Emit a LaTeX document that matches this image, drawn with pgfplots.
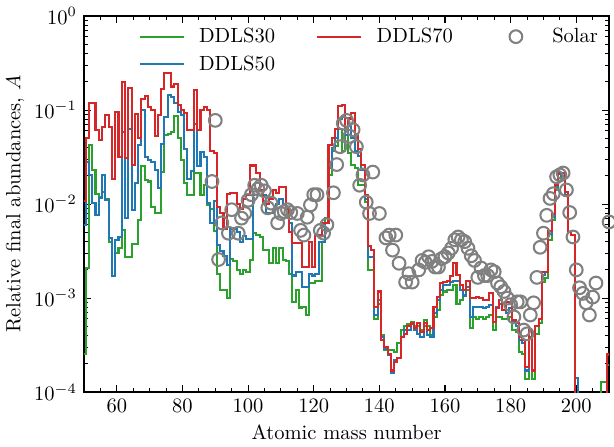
\documentclass[border=0pt]{standalone}
\usepackage{pgfplots}
\pgfplotsset{compat=1.18}
\usepackage{pgfplotstable}
\definecolor{cgreen}{HTML}{2CA02C}
\definecolor{cblue}{HTML}{1F77B4}
\definecolor{cred}{HTML}{D62728}
\definecolor{cgray}{HTML}{808080}
\pgfplotsset{
  mylineleg/.style={legend image code/.code={\draw[##1, line width=1pt] (0pt,0pt) -- (21.5pt,0pt);}},
  mysolarleg/.style={legend image code/.code={\path[draw=none, fill=none] (0pt,-1pt) rectangle (21.5pt,1pt);\draw[mark repeat=2, mark phase=2, ##1] plot coordinates {(0pt,0pt) (10.75pt,0pt) (21.5pt,0pt)};}},
}

% log10 of relative final abundances, per atomic mass number
\pgfplotstableread{
m r b g
50 -1.97 -2.22 -3.59
51 -1.30 -1.55 -2.68
52 -0.93 -1.69 -1.37
53 -0.93 -1.99 -1.64
54 -1.21 -2.12 -1.89
55 -1.32 -1.94 -1.92
56 -1.18 -1.69 -1.87
57 -1.05 -1.96 -1.95
58 -1.18 -2.36 -2.40
59 -1.73 -2.77 -2.77
60 -1.02 -2.38 -2.52
61 -1.50 -2.35 -2.47
62 -0.70 -1.23 -2.28
63 -1.51 -2.15 -2.56
64 -0.77 -1.20 -2.56
65 -1.58 -2.06 -2.42
66 -1.04 -1.78 -2.42
67 -1.30 -1.37 -2.17
68 -0.88 -1.00 -1.60
69 -0.85 -1.50 -1.74
70 -0.97 -1.53 -1.76
71 -1.00 -1.55 -2.03
72 -1.28 -1.64 -2.10
73 -1.05 -1.83 -2.10
74 -0.78 -1.36 -1.66
75 -0.61 -1.07 -1.27
76 -0.61 -0.84 -1.25
77 -0.75 -0.86 -1.23
78 -0.72 -0.93 -1.06
79 -0.95 -1.02 -1.30
80 -1.00 -1.05 -1.53
81 -1.03 -1.41 -1.78
82 -1.21 -1.73 -1.90
83 -1.21 -1.65 -1.90
84 -0.79 -1.15 -1.67
85 -1.21 -1.60 -1.67
86 -1.00 -1.45 -1.90
87 -0.97 -1.50 -1.80
88 -1.00 -1.99 -2.01
89 -1.44 -2.20 -2.05
90 -1.46 -1.97 -2.29
91 -2.03 -2.44 -2.74
92 -2.10 -2.50 -2.91
93 -2.27 -2.55 -2.91
94 -1.89 -2.65 -3.00
95 -1.88 -2.26 -2.58
96 -1.88 -2.26 -2.61
97 -2.00 -2.30 -2.70
98 -2.05 -2.40 -2.74
99 -1.95 -2.34 -2.70
100 -1.90 -2.37 -2.72
101 -1.59 -2.37 -2.60
102 -1.59 -1.90 -2.31
103 -1.67 -1.90 -2.33
104 -1.85 -1.90 -2.35
105 -2.00 -1.90 -2.49
106 -2.00 -2.10 -2.49
107 -1.95 -2.10 -2.63
108 -1.85 -2.05 -2.47
109 -1.88 -2.00 -2.63
110 -1.82 -1.95 -2.47
111 -1.82 -2.00 -2.60
112 -2.05 -2.05 -2.61
113 -2.30 -2.20 -2.74
114 -2.41 -2.76 -3.04
115 -2.41 -2.72 -2.91
116 -2.41 -2.72 -3.10
117 -2.67 -2.88 -3.09
118 -2.67 -2.88 -3.18
119 -2.40 -2.74 -2.84
120 -2.67 -2.76 -2.84
121 -2.33 -2.74 -2.82
122 -2.33 -2.40 -2.82
123 -2.20 -2.40 -2.40
124 -2.20 -2.20 -2.15
125 -1.37 -1.62 -1.69
126 -1.30 -1.40 -1.44
127 -1.20 -1.30 -1.38
128 -0.96 -1.10 -1.20
129 -0.95 -1.07 -1.44
130 -1.20 -1.27 -1.27
131 -1.09 -1.15 -1.46
132 -1.03 -1.30 -1.58
133 -1.25 -1.44 -1.62
134 -1.41 -1.49 -1.80
135 -1.58 -1.64 -1.80
136 -1.90 -1.95 -1.98
137 -2.45 -2.56 -2.70
138 -2.49 -2.56 -2.70
139 -3.09 -3.18 -3.22
140 -2.93 -3.02 -3.06
141 -3.45 -3.41 -3.39
142 -3.52 -3.54 -3.55
143 -3.59 -3.61 -3.55
144 -3.77 -3.80 -3.55
145 -3.68 -3.66 -3.57
146 -3.64 -3.64 -3.48
147 -3.41 -3.41 -3.34
148 -3.38 -3.34 -3.30
149 -3.30 -3.34 -3.28
150 -3.27 -3.28 -3.25
151 -3.32 -3.34 -3.30
152 -3.27 -3.38 -3.30
153 -3.36 -3.41 -3.34
154 -3.27 -3.30 -3.23
155 -3.34 -3.39 -3.30
156 -3.32 -3.41 -3.39
157 -3.09 -3.16 -3.20
158 -2.99 -3.02 -3.13
159 -2.84 -2.91 -2.97
160 -2.83 -2.86 -2.93
161 -2.82 -2.86 -2.91
162 -2.77 -2.83 -2.91
163 -2.63 -2.82 -2.86
164 -2.75 -2.82 -3.06
165 -2.86 -2.91 -3.02
166 -2.91 -2.98 -2.97
167 -2.82 -2.88 -2.91
168 -3.00 -3.20 -3.32
169 -3.00 -3.09 -3.20
170 -2.99 -3.09 -3.22
171 -3.00 -3.09 -3.20
172 -3.02 -3.11 -3.22
173 -3.02 -3.09 -3.20
174 -2.95 -3.07 -3.18
175 -3.25 -3.25 -3.34
176 -3.11 -3.09 -3.20
177 -3.02 -3.06 -3.20
178 -3.13 -3.13 -3.22
179 -3.04 -3.16 -3.22
180 -3.06 -3.11 -3.20
181 -3.23 -3.25 -3.34
182 -3.27 -3.30 -3.36
183 -3.41 -3.45 -3.57
184 -3.45 -3.48 -3.59
185 -3.73 -3.77 -3.86
186 -3.34 -3.34 -3.41
187 -3.77 -3.78 -3.86
188 -3.30 -3.30 -3.38
189 -3.22 -3.22 -3.27
190 -2.72 -2.75 -2.83
191 -2.72 -2.72 -2.79
192 -2.29 -2.32 -2.38
193 -2.11 -2.14 -2.17
194 -1.80 -1.82 -1.85
195 -1.67 -1.68 -1.72
196 -1.67 -1.70 -1.72
197 -1.87 -1.90 -1.87
198 -2.30 -2.30 -2.30
199 -2.33 -2.33 -2.33
200 -6 -3.85 -6
201 -6 -6 -6
202 -6 -6 -6
203 -6 -6 -6
204 -6 -6 -6
205 -6 -6 -6
206 -6 -6 -6
207 -6 -6 -6
208 -6 -6 -3.89
209 -6 -6 -3.89
210 -3.60 -6 -3.71
211 -3.60 -6 -3.71
}\abund

% log10 of solar abundances
\pgfplotstableread{
m s
89 -1.76
90 -1.11
91 -2.59
92 -2.20
94 -2.31
95 -2.06
97 -2.31
98 -2.15
99 -2.10
100 -1.96
101 -1.90
102 -1.80
103 -1.84
104 -1.80
105 -1.86
106 -2.04
107 -1.99
109 -2.20
110 -2.10
111 -2.08
112 -2.06
113 -2.09
115 -2.10
116 -2.28
117 -2.33
118 -2.14
119 -2.01
120 -1.90
121 -1.90
122 -2.28
123 -2.31
124 -2.22
126 -1.88
127 -1.58
128 -1.39
129 -1.14
130 -1.11
131 -1.28
132 -1.21
133 -1.39
134 -1.80
135 -1.69
136 -1.98
137 -2.10
138 -1.66
140 -2.10
142 -2.36
143 -2.33
144 -2.49
145 -2.33
146 -2.63
148 -2.83
149 -2.74
150 -2.83
152 -2.70
153 -2.60
154 -2.62
155 -2.56
156 -2.61
157 -2.67
158 -2.67
159 -2.58
160 -2.56
161 -2.52
162 -2.47
163 -2.38
164 -2.35
165 -2.38
166 -2.40
167 -2.47
168 -2.55
169 -2.60
170 -2.78
171 -2.68
172 -2.76
173 -2.76
174 -2.70
175 -2.72
176 -2.84
177 -2.88
178 -2.93
179 -3.00
180 -3.07
181 -3.20
182 -3.04
183 -3.04
184 -3.34
185 -3.38
186 -3.18
187 -3.05
188 -2.78
189 -2.46
190 -2.31
191 -2.12
192 -1.94
193 -1.89
194 -1.71
195 -1.69
196 -1.67
197 -1.85
198 -2.09
199 -2.35
200 -2.70
201 -2.89
202 -2.95
203 -3.05
204 -3.18
205 -2.99
206 -2.84
210 -2.19
}\solar

\begin{document}
\begin{tikzpicture}
\begin{axis}[
  scale only axis,
  width=255.9pt, height=183.3pt,
  xmin=50, xmax=210,
  ymode=log, ymin=1e-4, ymax=1,
  xtick={60,80,...,200},
  minor xtick={50,55,...,210},
  ytick={1e-4,1e-3,1e-2,1e-1,1},
  tick align=inside,
  major tick length=3.6pt,
  minor tick length=2pt,
  every tick/.style={black, line width=0.5pt},
  axis line style={line width=0.6pt},
  xlabel={Atomic mass number},
  ylabel={Relative final abundances, $A$},
  xlabel style={yshift=1pt},
  ylabel style={yshift=-2pt},
  legend columns=3,
  legend cell align=left,
  legend style={draw=none, fill=none, at={(0.103,0.975)}, anchor=north west,
    inner sep=0pt, row sep=3pt,
    nodes={inner sep=1pt},
    /tikz/every odd column/.append style={column sep=6pt},
    /tikz/every even column/.append style={column sep=19pt}},
]
\addplot[const plot mark mid, cgreen, line width=1pt, forget plot] table[x=m, y expr=10^(\thisrow{g})] {\abund};
\addplot[const plot mark mid, cblue, line width=1pt, forget plot] table[x=m, y expr=10^(\thisrow{b})] {\abund};
\addplot[const plot mark mid, cred, line width=1pt, forget plot] table[x=m, y expr=10^(\thisrow{r})] {\abund};
\addplot[only marks, mark=o, mark size=3.1pt, cgray, line width=1pt, forget plot] table[x=m, y expr=10^(\thisrow{s})] {\solar};

\addlegendimage{mylineleg, cgreen}
\addlegendentry{DDLS30}
\addlegendimage{mylineleg, cred}
\addlegendentry{DDLS70}
\addlegendimage{mysolarleg, only marks, mark=o, mark size=3.1pt, cgray, line width=1pt}
\addlegendentry{Solar}
\addlegendimage{mylineleg, cblue}
\addlegendentry{DDLS50}
\end{axis}
\pgfresetboundingbox
\path[use as bounding box] ([shift={(-40.95pt,-26.3pt)}]current axis.south west) rectangle ([shift={(258.3pt,191.1pt)}]current axis.south west);
\end{tikzpicture}
\end{document}
